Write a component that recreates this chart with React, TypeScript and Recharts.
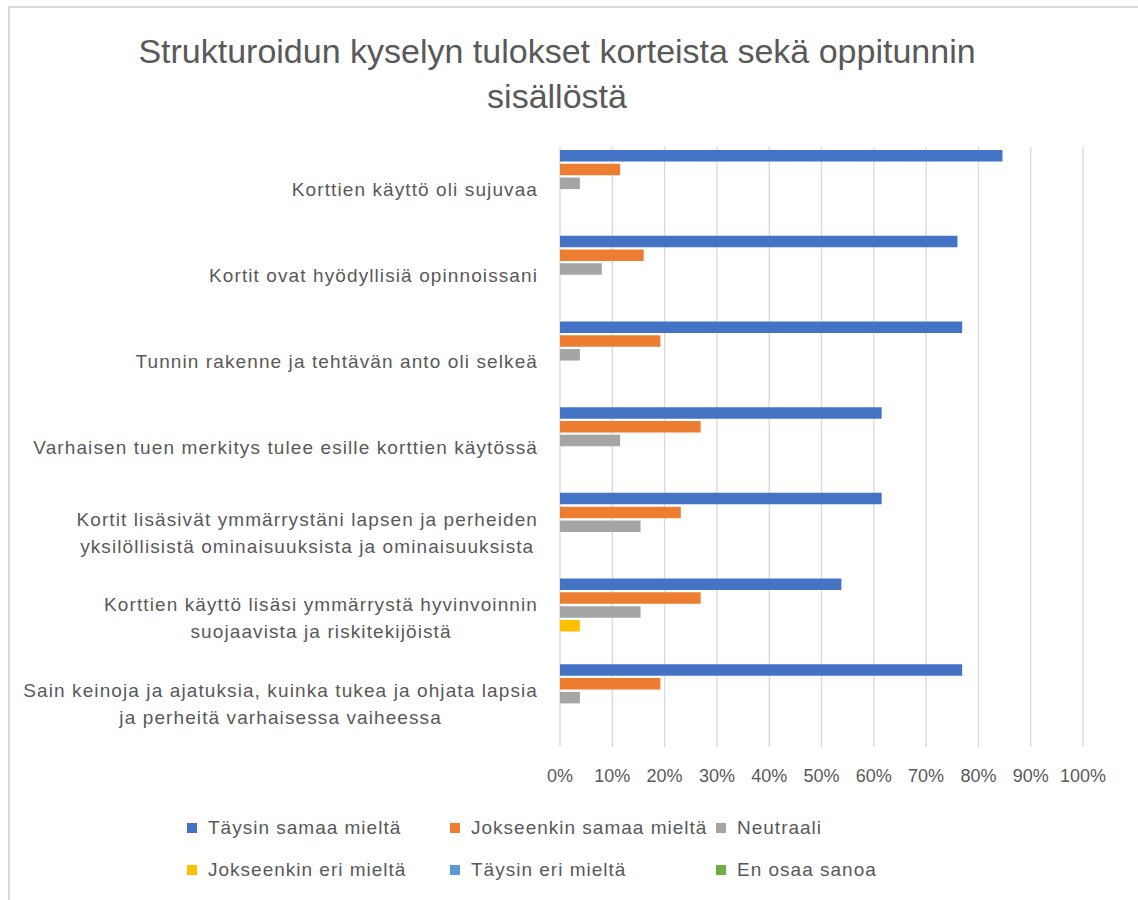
import { Bar, BarChart, CartesianGrid, Legend, XAxis, YAxis } from "recharts";

const categories = [
  "Korttien käyttö oli sujuvaa",
  "Kortit ovat hyödyllisiä opinnoissani",
  "Tunnin rakenne ja tehtävän anto oli selkeä",
  "Varhaisen tuen merkitys tulee esille korttien käytössä",
  "Kortit lisäsivät ymmärrystäni lapsen ja perheiden yksilöllisistä ominaisuuksista ja ominaisuuksista",
  "Korttien käyttö lisäsi ymmärrystä hyvinvoinnin suojaavista ja riskitekijöistä",
  "Sain keinoja ja ajatuksia, kuinka tukea ja ohjata lapsia ja perheitä varhaisessa vaiheessa",
];

// prosentteja
const taysinSamaa = [84.6, 76, 76.9, 61.5, 61.5, 53.8, 76.9];
const jokseenkinSamaa = [11.5, 16, 19.2, 26.9, 23.1, 26.9, 19.2];
const neutraali = [3.8, 8, 3.8, 11.5, 15.4, 15.4, 3.8];
const jokseenkinEri = [0, 0, 0, 0, 0, 3.8, 0];
const taysinEri = [0, 0, 0, 0, 0, 0, 0];
const enOsaa = [0, 0, 0, 0, 0, 0, 0];

const xTicks = [0, 10, 20, 30, 40, 50, 60, 70, 80, 90, 100];

const series = [
  { key: "Täysin samaa mieltä", values: taysinSamaa, color: "#4472C4" },
  { key: "Jokseenkin samaa mieltä", values: jokseenkinSamaa, color: "#ED7D31" },
  { key: "Neutraali", values: neutraali, color: "#A5A5A5" },
  { key: "Jokseenkin eri mieltä", values: jokseenkinEri, color: "#FFC000" },
  { key: "Täysin eri mieltä", values: taysinEri, color: "#5B9BD5" },
  { key: "En osaa sanoa", values: enOsaa, color: "#70AD47" },
];

const data = categories.map((name, i) => {
  const row: Record<string, string | number> = { name };
  series.forEach((s) => (row[s.key] = s.values[i]));
  return row;
});

const FONT = '"Liberation Sans", Arial, sans-serif';
const TEXT = "#595959";
const LABEL_SIZE = 19;
const LABEL_SPACING = 1.1;

let ctx: CanvasRenderingContext2D | null = null;
function measure(text: string) {
  if (!ctx) ctx = document.createElement("canvas").getContext("2d");
  ctx!.font = `${LABEL_SIZE}px ${FONT}`;
  return ctx!.measureText(text).width + text.length * LABEL_SPACING;
}

function wrap(text: string, maxWidth: number) {
  const words = text.split(" ");
  const lines: string[] = [];
  let cur = "";
  for (const w of words) {
    const next = cur ? cur + " " + w : w;
    if (cur && measure(next) > maxWidth) {
      lines.push(cur);
      cur = w;
    } else cur = next;
  }
  if (cur) lines.push(cur);
  return lines;
}

// kategoriat: rivitetty, ensimmäinen rivi oikealle, muut keskelle sen alle
function CategoryTick({ x, y, payload }: any) {
  const lines = wrap(String(payload.value), 520);
  const w1 = measure(lines[0]);
  const lh = 27;
  return (
    <g>
      {lines.map((line, i) => (
        <text
          key={i}
          x={i === 0 ? x : x - w1 / 2}
          y={y + (i - (lines.length - 1) / 2) * lh}
          textAnchor={i === 0 ? "end" : "middle"}
          dominantBaseline="central"
          fontFamily={FONT}
          fontSize={LABEL_SIZE}
          letterSpacing={LABEL_SPACING}
          fill={TEXT}
        >
          {line}
        </text>
      ))}
    </g>
  );
}

const legendCols = [187, 450, 716];
const legendRows = [18, 60];
const seriesOrder = series.map((s) => s.key);

function ExcelLegend({ payload }: any) {
  const items = [...(payload || [])].sort(
    (a: any, b: any) => seriesOrder.indexOf(a.value) - seriesOrder.indexOf(b.value)
  );
  return (
    <div style={{ position: "relative", width: 1138, height: 80 }}>
      {items.map((p: any, i: number) => (
        <div
          key={p.value}
          style={{
            position: "absolute",
            left: legendCols[i % 3],
            top: legendRows[Math.floor(i / 3)] - 14,
            height: 28,
            display: "flex",
            alignItems: "center",
            whiteSpace: "nowrap",
          }}
        >
          <span style={{ width: 10, height: 10, background: p.color, display: "inline-block" }} />
          <span
            style={{
              marginLeft: 11,
              fontFamily: FONT,
              fontSize: 19,
              letterSpacing: 1,
              color: TEXT,
            }}
          >
            {p.value}
          </span>
        </div>
      ))}
    </div>
  );
}

export default function App() {
  return (
    <div
      style={{
        position: "absolute",
        left: 0,
        top: 0,
        width: 1138,
        height: 900,
        overflow: "hidden",
        background: "#fff",
      }}
    >
      <div
        style={{
          position: "absolute",
          left: 8,
          top: 6,
          width: 1200,
          height: 1000,
          border: "2px solid #d9d9d9",
        }}
      />
      <div
        style={{
          position: "absolute",
          left: 0,
          top: 29,
          width: 1114,
          textAlign: "center",
          fontFamily: FONT,
          fontSize: 34,
          lineHeight: "45px",
          color: TEXT,
        }}
      >
        Strukturoidun kyselyn tulokset korteista sekä oppitunnin
        <br />
        sisällöstä
      </div>
      <div style={{ position: "absolute", left: 0, top: 0 }}>
        <BarChart
          width={1138}
          height={900}
          data={data}
          layout="vertical"
          margin={{ top: 147, right: 55, bottom: 123, left: 20 }}
          barGap={2.3}
          barSize={11.5}
        >
          <CartesianGrid horizontal={false} stroke="#d9d9d9" strokeWidth={1.3} />
          <XAxis
            type="number"
            domain={[0, 100]}
            ticks={xTicks}
            tickFormatter={(v) => `${v}%`}
            axisLine={false}
            tickLine={false}
            tickSize={0}
            tickMargin={22}
            height={30}
            tick={{ fontFamily: FONT, fontSize: 18, fill: TEXT }}
            interval={0}
          />
          <YAxis
            type="category"
            dataKey="name"
            width={540}
            axisLine={false}
            tickLine={false}
            tickSize={0}
            tickMargin={22}
            tick={<CategoryTick />}
            interval={0}
          />
          <Legend
            layout="horizontal"
            verticalAlign="middle"
            align="center"
            content={<ExcelLegend />}
            wrapperStyle={{ top: 810, left: 0, width: 1138, height: 80 }}
          />
          {series.map((s) => (
            <Bar key={s.key} dataKey={s.key} fill={s.color} isAnimationActive={false} />
          ))}
        </BarChart>
      </div>
    </div>
  );
}
